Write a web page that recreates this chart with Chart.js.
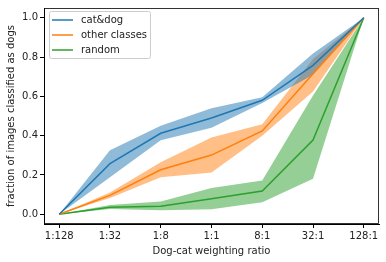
<!DOCTYPE html>
<html><head><meta charset="utf-8">
<script src="https://cdn.jsdelivr.net/npm/chart.js@4.4.1/dist/chart.umd.min.js"></script>
<style>html,body{margin:0;padding:0;background:#fff}#wrap{width:386px;height:262px}</style>
</head><body><div id="wrap"><canvas id="c" width="386" height="262"></canvas></div>
<script>
const categories = ['1:128','1:32','1:8','1:1','8:1','32:1','128:1'];
const yTicks = [0.0,0.2,0.4,0.6,0.8,1.0];
const seriesNames = ['cat&dog','other classes','random'];
const catdogMean  = [0.0, 0.257, 0.412, 0.490, 0.580, 0.758, 1.0];
const catdogLow   = [0.0, 0.188, 0.377, 0.440, 0.566, 0.710, 1.0];
const catdogHigh  = [0.0, 0.325, 0.450, 0.540, 0.596, 0.818, 1.0];
const otherMean   = [0.0, 0.096, 0.226, 0.301, 0.424, 0.715, 1.0];
const otherLow    = [0.0, 0.082, 0.188, 0.212, 0.399, 0.625, 1.0];
const otherHigh   = [0.0, 0.110, 0.264, 0.390, 0.458, 0.790, 1.0];
const randomMean  = [0.0, 0.035, 0.040, 0.079, 0.118, 0.377, 1.0];
const randomLow   = [0.0, 0.027, 0.020, 0.025, 0.061, 0.180, 1.0];
const randomHigh  = [0.0, 0.047, 0.064, 0.133, 0.172, 0.605, 1.0];

const colors = ['#1f77b4','#ff7f0e','#2ca02c'];
const bandColors = ['rgba(31,119,180,0.5)','rgba(255,127,14,0.5)','rgba(44,160,44,0.5)'];
const pts = arr => arr.map((v,i)=>({x:i,y:v}));
const groups = [[catdogMean,catdogLow,catdogHigh],[otherMean,otherLow,otherHigh],[randomMean,randomLow,randomHigh]];
const datasets = [];
groups.forEach((g,k)=>{
  datasets.push({label:'_low'+k,data:pts(g[1]),borderWidth:0,pointRadius:0,fill:false,order:10,borderColor:'transparent'});
  datasets.push({label:'_high'+k,data:pts(g[2]),borderWidth:0,pointRadius:0,fill:'-1',backgroundColor:bandColors[k],borderColor:'transparent',order:10});
});
groups.forEach((g,k)=>{
  datasets.push({label:seriesNames[k],data:pts(g[0]),borderColor:colors[k],borderWidth:1.5,pointRadius:0,fill:false,order:1});
});
const font = {family:'DejaVu Sans',size:10};
const frame = {id:'frame',afterDatasetsDraw(chart){
  const a=chart.chartArea,ctx=chart.ctx;
  ctx.save();ctx.strokeStyle='#000';ctx.lineWidth=0.8;
  ctx.strokeRect(Math.round(a.left)+0.5,Math.round(a.top)+0.5,Math.round(a.right-a.left)-1,Math.round(a.bottom-a.top)-1);
  // legend
  const bx=49.5,by=11.5,bw=101,bh=47;
  ctx.fillStyle='rgba(255,255,255,0.8)';ctx.strokeStyle='#cccccc';ctx.lineWidth=1;
  ctx.beginPath();if(ctx.roundRect)ctx.roundRect(bx,by,bw,bh,2);else ctx.rect(bx,by,bw,bh);ctx.fill();ctx.stroke();
  ctx.font='10px "DejaVu Sans"';ctx.textBaseline='middle';
  seriesNames.forEach((n,k)=>{
    const y=20+k*15;
    ctx.strokeStyle=colors[k];ctx.lineWidth=1.5;
    ctx.beginPath();ctx.moveTo(52,y);ctx.lineTo(73,y);ctx.stroke();
    ctx.fillStyle='#222';ctx.fillText(n,81,y);
  });
  ctx.restore();
}};
new Chart(document.getElementById('c'),{
  type:'line',
  data:{datasets},
  plugins:[frame],
  options:{
    responsive:false,animation:false,
    layout:{padding:{left:0,right:7,top:6,bottom:0}},
    plugins:{legend:{display:false},tooltip:{enabled:false}},
    scales:{
      x:{type:'linear',min:-0.3,max:6.3,
        afterBuildTicks:s=>{s.ticks=categories.map((_,i)=>({value:i}));},
        afterFit:s=>{s.height=38;},
        ticks:{callback:v=>categories[v],color:'#222',font,padding:2,maxRotation:0,autoSkip:false},
        grid:{drawOnChartArea:false,tickLength:4,color:'#000'},
        border:{color:'#000'},
        title:{display:true,text:'Dog-cat weighting ratio',color:'#222',font,padding:{top:2,bottom:5}}},
      y:{type:'linear',min:-0.05,max:1.05,
        afterBuildTicks:s=>{s.ticks=yTicks.map(v=>({value:v}));},
        afterFit:s=>{s.width=44;},
        ticks:{callback:v=>v.toFixed(1),color:'#222',font,padding:2},
        grid:{drawOnChartArea:false,tickLength:4,color:'#000'},
        border:{color:'#000'},
        title:{display:true,text:'fraction of images classified as dogs',color:'#222',font,padding:{top:5,bottom:2}}}
    }
  }
});
</script></body></html>
